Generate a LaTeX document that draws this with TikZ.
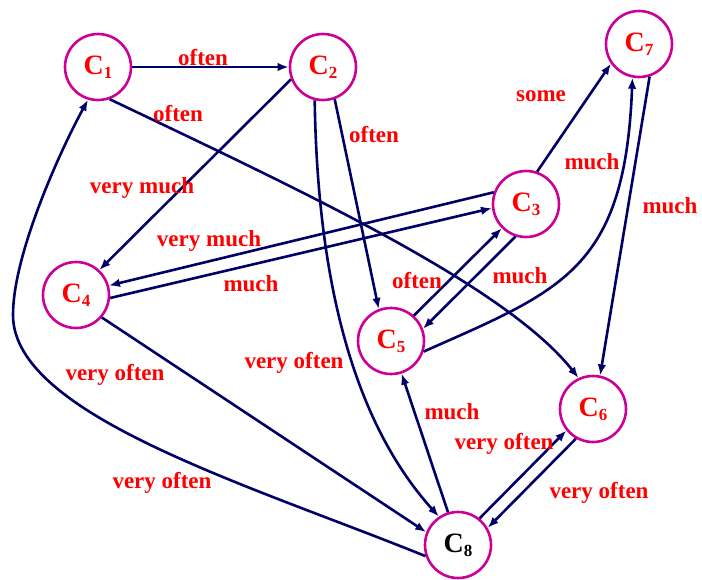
\documentclass[tikz,border=0pt]{standalone}
\usepackage{fontspec}
\setmainfont{Liberation Serif}
\usetikzlibrary{arrows.meta}
\definecolor{navyline}{RGB}{0,0,102}
\definecolor{ringcol}{RGB}{204,0,153}
\newcommand{\cname}[1]{C\raisebox{-4pt}{\fontsize{17}{17}\selectfont #1}}
\begin{document}
\begin{tikzpicture}[x=1pt,y=-1pt,
  concept/.style={circle,draw=ringcol,line width=2.6pt,minimum size=66pt,inner sep=0pt,text=red,font=\fontsize{28}{28}\selectfont\bfseries},
  lbl/.style={text=red,font=\fontsize{23}{23}\selectfont\bfseries,anchor=base,inner sep=0pt},
  link/.style={draw=navyline,line width=2.6pt,-{Latex[length=11pt,width=8.5pt]}}]
\fill[white] (0,0) rectangle (702,579);
\useasboundingbox (0,0) rectangle (702,579);
\node[concept] (C1) at (98,67) {\cname{1}};
\node[concept] (C2) at (323,67) {\cname{2}};
\node[concept] (C3) at (526,204) {\cname{3}};
\node[concept] (C4) at (76,295) {\cname{4}};
\node[concept] (C5) at (391,341) {\cname{5}};
\node[concept] (C6) at (593,409) {\cname{6}};
\node[concept] (C7) at (639,44) {\cname{7}};
\node[concept,text=black] (C8) at (458,545) {\cname{8}};
\draw[link] (C1.east) -- (C2.west);
\draw[link] (C1.-70) .. controls (300,190) and (505,285) .. (C6.115);
\draw[link] (C2.201) -- (C4.47);
\draw[link] (C2.-70) -- (C5.111);
\draw[link] (C2.-104) .. controls (318,320) and (370,440) .. (C8.124);
\draw[link] (C3.160) -- (C4.16);
\draw[link] (C4.-5) -- (C3.187);
\draw[link] (C3.71) -- (C7.215);
\draw[link] (C5.48) -- (C3.225);
\draw[link] (C3.252) -- (C5.21);
\draw[link] (C5.-18) .. controls (562,290) and (625,270) .. (C7.-101);
\draw[link] (C7.-72) -- (C6.78);
\draw[link] (C4.-41) -- (C8.158);
\draw[link] (C8.107) -- (C5.-72);
\draw[link] (C8.51) -- (C6.219);
\draw[link] (C6.240) -- (C8.30);
\draw[link] (C8.199) .. controls (250,485) and (13,415) .. (13,315) .. controls (13,255) and (59,153) .. (C1.-107);
\node[lbl] (l1) at (203,65) {often};
\node[lbl] (l2) at (178,121) {often};
\node[lbl] (l3) at (142,193) {very much};
\node[lbl] (l4) at (209,246) {very much};
\node[lbl] (l5) at (251,291) {much};
\node[lbl] (l6) at (374,142) {often};
\node[lbl] (l7) at (541,101) {some};
\node[lbl] (l8) at (592,169) {much};
\node[lbl] (l9) at (670,213) {much};
\node[lbl] (l10) at (417,288) {often};
\node[lbl] (l11) at (520,283) {much};
\node[lbl] (l12) at (115,380) {very often};
\node[lbl] (l13) at (294,368) {very often};
\node[lbl] (l14) at (162,488) {very often};
\node[lbl] (l15) at (452,419) {much};
\node[lbl] (l16) at (504,449) {very often};
\node[lbl] (l17) at (599,498) {very often};
\end{tikzpicture}
\end{document}
